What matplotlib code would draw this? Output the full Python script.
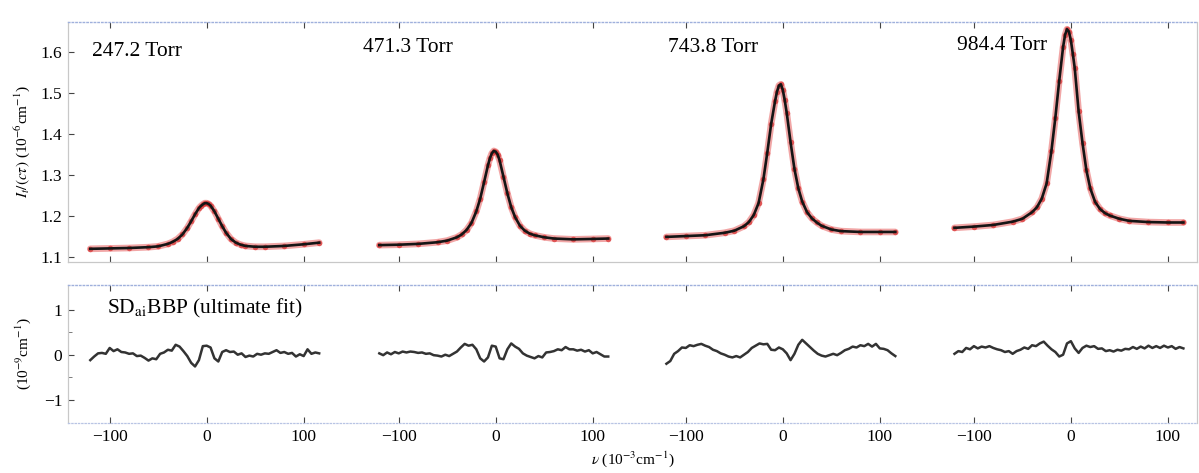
import matplotlib.pyplot as plt

plt.rcParams['font.family'] = ['Liberation Serif', 'DejaVu Serif']
plt.rcParams['mathtext.fontset'] = 'stix'

pressures = ["247.2 Torr", "471.3 Torr", "743.8 Torr", "984.4 Torr"]

# detuning of the measured profile points (10^-3 cm^-1)
profile_nu = [-120, -100, -80, -60, -50, -40, -35, -30, -25, -20, -16, -12, -8, -6, -4, -2,
              0, 2, 4, 8, 12, 16, 20, 25, 30, 35, 40, 50, 60, 80, 100, 116]

profile_247 = [1.121, 1.122, 1.123, 1.125, 1.127, 1.133, 1.138, 1.145, 1.156, 1.172, 1.188,
               1.205, 1.220, 1.225, 1.229, 1.232, 1.232, 1.230, 1.226, 1.212, 1.194, 1.176,
               1.160, 1.145, 1.136, 1.131, 1.128, 1.126, 1.126, 1.128, 1.132, 1.136]
profile_471 = [1.130, 1.131, 1.133, 1.137, 1.141, 1.149, 1.156, 1.167, 1.184, 1.212, 1.243,
               1.283, 1.324, 1.341, 1.353, 1.359, 1.357, 1.350, 1.336, 1.296, 1.256, 1.222,
               1.198, 1.177, 1.165, 1.158, 1.154, 1.149, 1.146, 1.144, 1.145, 1.146]
profile_744 = [1.150, 1.152, 1.154, 1.160, 1.165, 1.176, 1.186, 1.203, 1.232, 1.290, 1.355,
               1.425, 1.480, 1.503, 1.518, 1.521, 1.507, 1.482, 1.452, 1.380, 1.315, 1.268,
               1.236, 1.210, 1.195, 1.185, 1.177, 1.168, 1.164, 1.162, 1.162, 1.162]
profile_984 = [1.172, 1.175, 1.179, 1.187, 1.194, 1.210, 1.222, 1.243, 1.280, 1.360, 1.440,
               1.530, 1.612, 1.641, 1.655, 1.649, 1.628, 1.595, 1.560, 1.455, 1.378, 1.312,
               1.268, 1.235, 1.218, 1.208, 1.202, 1.194, 1.189, 1.186, 1.185, 1.185]

resid_nu = [-120, -116, -112, -108, -104, -100, -96, -92, -88, -84, -80, -76, -72, -68, -64,
            -60, -56, -52, -48, -44, -40, -36, -32, -28, -24, -20, -16, -12, -8, -4,
            0, 4, 8, 12, 16, 20, 24, 28, 32, 36, 40, 44, 48, 52, 56,
            60, 64, 68, 72, 76, 80, 84, 88, 92, 96, 100, 104, 108, 112, 116]

resid_247 = [-0.12, -0.04, 0.03, 0.04, 0.02, 0.15, 0.08, 0.12, 0.06, 0.05,
             0.02, 0.03, -0.03, -0.02, -0.07, -0.13, -0.08, -0.10, 0.02, 0.05,
             0.11, 0.09, 0.22, 0.18, 0.08, -0.03, -0.18, -0.26, -0.12, 0.19,
             0.20, 0.16, -0.08, -0.15, 0.06, 0.10, 0.06, 0.07, 0.00, 0.03,
             -0.05, -0.02, -0.04, 0.02, 0.00, 0.03, 0.02, 0.06, 0.10, 0.04,
             0.06, 0.02, 0.04, -0.04, 0.01, -0.03, 0.12, 0.02, 0.05, 0.03]
resid_471 = [0.03, -0.01, 0.05, 0.01, 0.06, 0.03, 0.07, 0.05, 0.07, 0.06,
             0.04, 0.05, 0.02, 0.03, -0.01, -0.02, -0.04, 0.00, -0.03, 0.02,
             0.07, 0.16, 0.24, 0.20, 0.22, 0.12, -0.08, -0.15, -0.06, 0.20,
             0.18, -0.08, -0.10, 0.12, 0.25, 0.18, 0.13, 0.03, -0.02, -0.05,
             -0.08, -0.03, -0.06, 0.05, 0.06, 0.08, 0.12, 0.10, 0.17, 0.12,
             0.12, 0.09, 0.11, 0.07, 0.10, 0.03, 0.06, 0.01, -0.04, -0.04]
resid_744 = [-0.20, -0.14, 0.02, 0.08, 0.16, 0.15, 0.21, 0.19, 0.22, 0.24,
             0.20, 0.17, 0.11, 0.08, 0.03, 0.00, -0.04, -0.06, -0.03, -0.06,
             0.00, 0.06, 0.15, 0.20, 0.25, 0.23, 0.24, 0.11, 0.10, 0.16,
             0.12, 0.03, -0.12, 0.02, 0.22, 0.33, 0.25, 0.17, 0.09, 0.02,
             -0.02, -0.04, -0.01, 0.02, -0.01, 0.04, 0.10, 0.13, 0.18, 0.16,
             0.21, 0.19, 0.24, 0.18, 0.24, 0.14, 0.13, 0.10, 0.03, -0.03]
resid_984 = [0.02, 0.08, 0.06, 0.15, 0.12, 0.19, 0.14, 0.18, 0.16, 0.19,
             0.15, 0.12, 0.10, 0.06, 0.08, 0.02, 0.08, 0.11, 0.16, 0.13,
             0.21, 0.19, 0.25, 0.29, 0.20, 0.12, 0.06, -0.04, 0.00, 0.25,
             0.30, 0.14, 0.04, 0.15, 0.20, 0.17, 0.19, 0.13, 0.14, 0.08,
             0.10, 0.07, 0.11, 0.09, 0.13, 0.12, 0.17, 0.13, 0.18, 0.14,
             0.20, 0.15, 0.19, 0.15, 0.20, 0.16, 0.19, 0.13, 0.17, 0.14]

profiles = [profile_247, profile_471, profile_744, profile_984]
residuals = [resid_247, resid_471, resid_744, resid_984]

# each pressure gets its own stretch of the shared x axis
offsets = [0, 298, 594, 891]
label_pos = [(-118, 1.600), (-137, 1.610), (-118, 1.610), (-117, 1.615)]
tick_nu = [-100, 0, 100]

fig = plt.figure(figsize=(11.99, 4.73), dpi=100)
ax_top = fig.add_axes([0.0567, 0.447, 0.9416, 0.507])
ax_bot = fig.add_axes([0.0567, 0.105, 0.9416, 0.293])

for off, prof, res, name, (lx, ly) in zip(offsets, profiles, residuals, pressures, label_pos):
    xs = [off + v for v in profile_nu]
    ax_top.plot(xs, prof, color="#e03a3a", lw=4.8, alpha=0.45, solid_capstyle="round", zorder=2)
    ax_top.plot(xs, prof, "o", color="#d83030", ms=4.0, alpha=0.7, mec="none", zorder=3)
    ax_top.plot(xs, prof, color="#151515", lw=1.9, zorder=4)
    ax_top.text(off + lx, ly, name, fontsize=15.5, va="center", ha="left")

    ax_bot.plot([off + v for v in resid_nu], res, color="#333333", lw=1.8)

ax_bot.text(-103, 1.02, r"SD$_{\rm ai}$BBP (ultimate fit)", fontsize=15.5, va="center", ha="left")

ticks_x = [off + t for off in offsets for t in tick_nu]
tick_lbl = [f"{t}".replace("-", "\u2212") for off in offsets for t in tick_nu]

for ax in (ax_top, ax_bot):
    ax.set_xlim(-143, 1021)
    ax.set_xticks(ticks_x)
    ax.tick_params(axis="both", direction="in", length=4, width=0.8, color="#444444",
                   top=True, labelsize=12.5, pad=4)
    for side in ("left", "right", "bottom"):
        ax.spines[side].set_color("#c8c8c8")
        ax.spines[side].set_linewidth(0.9)
    ax.spines["top"].set_color("#9fb0dc")
    ax.spines["top"].set_linestyle(":")
    ax.spines["top"].set_linewidth(1.0)

ax_top.set_xticklabels([])
ax_top.set_ylim(1.090, 1.673)
ax_top.set_yticks([1.1, 1.2, 1.3, 1.4, 1.5, 1.6])
ax_top.set_ylabel(r"$I_t/(c\tau)$ (10$^{-6}$cm$^{-1}$)", fontsize=11, labelpad=6)

ax_bot.spines["bottom"].set_color("#b8c4e4")
ax_bot.spines["bottom"].set_linestyle(":")
ax_bot.set_xticklabels(tick_lbl)
ax_bot.set_ylim(-1.52, 1.55)
ax_bot.set_yticks([-1, 0, 1])
ax_bot.set_yticks([-0.5, 0.5], minor=True)
ax_bot.tick_params(axis="y", which="minor", direction="in", length=3, color="#666666")
ax_bot.set_yticklabels(["\u22121", "0", "1"])
ax_bot.set_ylabel(r"(10$^{-9}$cm$^{-1}$)", fontsize=11, labelpad=8)
ax_bot.set_xlabel(r"$\nu$ (10$^{-3}$cm$^{-1}$)", fontsize=11, labelpad=3)

fig.savefig("out.png", dpi=100)
